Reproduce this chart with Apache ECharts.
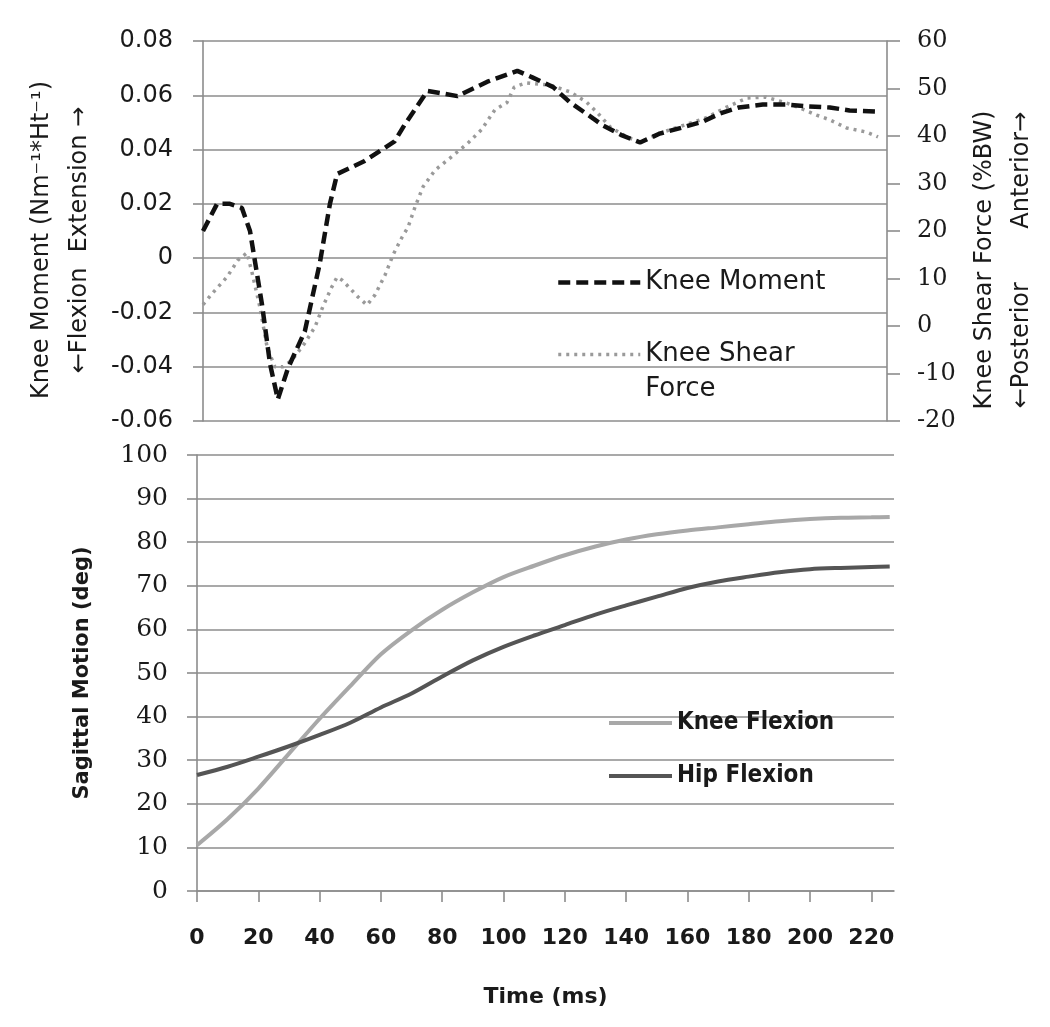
<!DOCTYPE html>
<html>
<head>
<meta charset="utf-8">
<script src="https://cdn.jsdelivr.net/npm/echarts@6/dist/echarts.min.js"></script>
<style>
html,body{margin:0;padding:0;background:#fff;}
#chart{width:1050px;height:1027px;}
</style>
</head>
<body>
<div id="chart"></div>
<script>
// ---- Top panel: knee moment (left axis) and knee shear force (right axis) ----
const kmTime  = [0, 4.7, 9, 13, 15.7, 19.7, 22.4, 25, 28.4, 34, 39, 42.4, 44.8, 54, 64, 67.5, 75, 85, 95, 105, 110, 117, 122.6, 129, 133.6, 140, 146, 152.6, 160, 167, 172.7, 179, 187, 195, 201.7, 209.4, 216, 226];
const kneeMoment = [0.010, 0.020, 0.020, 0.0185, 0.010, -0.017, -0.039, -0.052, -0.0405, -0.027, -0.002, 0.020, 0.031, 0.0358, 0.043, 0.0494, 0.0616, 0.0597, 0.065, 0.069, 0.0666, 0.063, 0.0574, 0.0525, 0.0489, 0.0452, 0.0426, 0.0459, 0.0481, 0.0503, 0.0533, 0.0555, 0.0566, 0.0566, 0.0559, 0.0555, 0.0544, 0.054];

const ksTime  = [0, 3.3, 8, 11.7, 14.7, 16.4, 19, 21.4, 24, 26.7, 29.7, 34, 37.4, 40, 43, 44.8, 46.4, 49, 51.8, 54.8, 57.4, 60.8, 63.5, 66.5, 68.5, 70.8, 73.5, 77.5, 83, 88.5, 93, 97.5, 101.5, 104, 108, 116, 122.6, 128, 131.6, 136, 141.6, 146, 152.6, 168, 175, 181.7, 188, 195, 199.4, 205, 209.4, 215, 221.8, 225.5];
const kneeShear = [4.5, 7.0, 10.3, 13.9, 15.4, 11.2, 4.0, -4.4, -8.6, -8.6, -7.2, -3.6, -0.2, 4.0, 8.2, 10.3, 9.7, 8.0, 6.1, 4.4, 6.5, 10.7, 15.0, 18.7, 20.8, 25.0, 29.3, 32.8, 35.6, 38.5, 41.3, 45.5, 47.0, 50.3, 51.2, 50.7, 49.3, 47.2, 45.0, 41.9, 39.8, 38.7, 40.6, 43.8, 46.1, 48.0, 48.2, 46.9, 45.9, 44.4, 43.4, 41.7, 40.8, 39.8];

// ---- Bottom panel: sagittal motion ----
const motionTime  = [0, 10, 20, 30, 40, 50, 60, 70, 80, 90, 100, 110, 120, 130, 140, 150, 160, 170, 180, 190, 200, 210, 220, 226];
const kneeFlexion = [10.5, 16.5, 23.5, 31.5, 39.5, 47, 54.3, 59.8, 64.5, 68.5, 72, 74.6, 77, 79, 80.6, 81.8, 82.7, 83.4, 84.1, 84.8, 85.3, 85.6, 85.7, 85.8];
const hipFlexion  = [26.6, 28.5, 30.8, 33.2, 35.8, 38.6, 42.1, 45.3, 49.2, 52.9, 56, 58.6, 61, 63.4, 65.5, 67.5, 69.5, 71, 72.1, 73.1, 73.8, 74.1, 74.3, 74.4];

const xTickLabels = [0, 20, 40, 60, 80, 100, 120, 140, 160, 180, 200, 220];

const pairs = (t, v) => t.map((x, i) => [x, v[i]]);

const grey = '#8c8c8c';
const txt = '#1a1a1a';

const chart = echarts.init(document.getElementById('chart'));
chart.setOption({
  animation: false,
  backgroundColor: '#ffffff',
  grid: [
    { left: 203, right: 163, top: 41, height: 380 },
    { left: 197, right: 156, top: 455, height: 436 }
  ],
  legend: [
    {
      orient: 'vertical', left: 556, top: 265, padding: 0, itemGap: 2,
      itemWidth: 82, itemHeight: 14,
      data: [
        { name: 'Knee Moment', lineStyle: { width: 4.5 } },
        { name: 'Knee Shear Force', lineStyle: { width: 3.5 } }
      ],
      formatter: n => n === 'Knee Shear Force' ? ' \nKnee Shear\nForce' : n,
      itemStyle: { opacity: 0 },
      textStyle: { fontFamily: 'DejaVu Sans', fontSize: 26, lineHeight: 35, color: txt }
    },
    {
      orient: 'vertical', left: 607, top: 708, padding: 0, itemGap: 23,
      itemWidth: 63, itemHeight: 14,
      data: [
        { name: 'Knee Flexion', lineStyle: { width: 4 } },
        { name: 'Hip Flexion', lineStyle: { width: 4 } }
      ],
      itemStyle: { opacity: 0 },
      textStyle: { fontFamily: 'DejaVu Sans Condensed, DejaVu Sans', fontWeight: 'bold', fontSize: 24, lineHeight: 30, color: txt }
    }
  ],
  xAxis: [
    { type: 'value', gridIndex: 0, min: 0, max: 228.5, show: false, splitLine: { show: false } },
    {
      type: 'value', gridIndex: 1, min: 0, max: 227.4, interval: 20,
      name: 'Time (ms)', nameLocation: 'middle', nameGap: 95,
      nameTextStyle: { fontFamily: 'DejaVu Sans', fontWeight: 'bold', fontSize: 22, color: txt },
      axisLine: { show: true, lineStyle: { color: grey, width: 1.6 } },
      axisTick: { show: true, length: 11, lineStyle: { color: grey, width: 1.6 }, customValues: xTickLabels },
      axisLabel: { margin: 36, fontFamily: 'DejaVu Sans', fontWeight: 'bold', fontSize: 22, color: txt, customValues: xTickLabels },
      splitLine: { show: false }
    }
  ],
  yAxis: [
    {
      type: 'value', gridIndex: 0, min: -0.06, max: 0.08, interval: 0.02, position: 'left',
      name: 'Knee Moment (Nm\u207B\u00B9*Ht\u207B\u00B9)\n\u2190Flexion  Extension \u2192',
      nameLocation: 'middle', nameRotate: 90, nameGap: 104,
      nameTextStyle: { fontFamily: 'DejaVu Sans', fontSize: 24, lineHeight: 38, color: txt, padding: [0, 18, 0, 0] },
      axisLine: { show: true, lineStyle: { color: grey, width: 1.6 } },
      axisTick: { show: true, length: 10, lineStyle: { color: grey, width: 1.6 } },
      axisLabel: { margin: 30, fontFamily: 'DejaVu Sans', fontSize: 24, color: txt },
      splitLine: { show: true, lineStyle: { color: grey, width: 1.6 } }
    },
    {
      type: 'value', gridIndex: 0, min: -20, max: 60, interval: 10, position: 'right', alignTicks: false,
      name: 'Knee Shear Force (%BW)\n\u2190Posterior       Anterior\u2192',
      nameLocation: 'middle', nameRotate: 90, nameGap: 74,
      nameTextStyle: { fontFamily: 'DejaVu Sans', fontSize: 24, lineHeight: 37, color: txt, padding: [0, 58, 0, 0] },
      axisLine: { show: true, lineStyle: { color: grey, width: 1.6 } },
      axisTick: { show: true, length: 13, lineStyle: { color: grey, width: 1.6 } },
      axisLabel: { margin: 30, fontFamily: 'DejaVu Serif', fontSize: 24, color: txt },
      splitLine: { show: false }
    },
    {
      type: 'value', gridIndex: 1, min: 0, max: 100, interval: 10,
      name: 'Sagittal Motion (deg)', nameLocation: 'middle', nameRotate: 90, nameGap: 104,
      nameTextStyle: { fontFamily: 'DejaVu Sans', fontWeight: 'bold', fontSize: 21, color: txt },
      axisLine: { show: true, lineStyle: { color: grey, width: 1.6 } },
      axisTick: { show: true, length: 10, lineStyle: { color: grey, width: 1.6 } },
      axisLabel: { margin: 29, fontFamily: 'DejaVu Serif', fontSize: 25, color: txt },
      splitLine: { show: true, lineStyle: { color: grey, width: 1.6 } }
    }
  ],
  series: [
    {
      name: 'Knee Moment', type: 'line', xAxisIndex: 0, yAxisIndex: 0,
      data: pairs(kmTime, kneeMoment), symbol: 'none', z: 3,
      lineStyle: { color: '#111111', width: 4.5, type: [12, 6] },
      itemStyle: { color: '#111111' }
    },
    {
      name: 'Knee Shear Force', type: 'line', xAxisIndex: 0, yAxisIndex: 1,
      data: pairs(ksTime, kneeShear), symbol: 'none', z: 2,
      lineStyle: { color: '#9a9a9a', width: 3.5, type: [3, 5] },
      itemStyle: { color: '#9a9a9a' }
    },
    {
      name: 'Knee Flexion', type: 'line', xAxisIndex: 1, yAxisIndex: 2,
      data: pairs(motionTime, kneeFlexion), symbol: 'none', smooth: 0.3,
      lineStyle: { color: '#a8a8a8', width: 4 },
      itemStyle: { color: '#a8a8a8' }
    },
    {
      name: 'Hip Flexion', type: 'line', xAxisIndex: 1, yAxisIndex: 2,
      data: pairs(motionTime, hipFlexion), symbol: 'none', smooth: 0.3,
      lineStyle: { color: '#555555', width: 4 },
      itemStyle: { color: '#555555' }
    }
  ]
});
</script>
</body>
</html>
